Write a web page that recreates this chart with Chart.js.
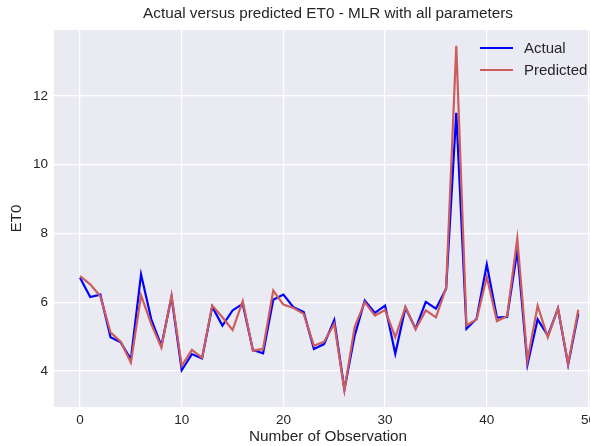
<!DOCTYPE html>
<html>
<head>
<meta charset="utf-8">
<script src="https://cdn.jsdelivr.net/npm/chart.js@4/dist/chart.umd.min.js"></script>
<style>
  html, body { margin: 0; padding: 0; background: #fff; }
  #wrap { width: 590px; height: 446px; position: relative; }
</style>
</head>
<body>
<div id="wrap"><canvas id="etChart"></canvas></div>
<script>
// datos
const observations = Array.from({ length: 50 }, (_, i) => i);
const actualET0 = [
  6.71, 6.15, 6.22, 4.98, 4.83, 4.34, 6.81, 5.51, 4.73, 6.15,
  4.02, 4.49, 4.36, 5.87, 5.32, 5.76, 5.95, 4.61, 4.51, 6.07,
  6.22, 5.85, 5.71, 4.64, 4.78, 5.48, 3.46, 5.02, 6.05, 5.69,
  5.90, 4.50, 5.84, 5.23, 6.01, 5.81, 6.39, 11.51, 5.23, 5.52,
  7.10, 5.55, 5.57, 7.50, 4.18, 5.50, 5.03, 5.81, 4.18, 5.67
];
const predictedET0 = [
  6.76, 6.52, 6.17, 5.12, 4.85, 4.24, 6.20, 5.37, 4.68, 6.20,
  4.15, 4.61, 4.38, 5.90, 5.56, 5.19, 6.03, 4.59, 4.64, 6.34,
  5.93, 5.83, 5.66, 4.73, 4.85, 5.37, 3.44, 5.27, 6.00, 5.61,
  5.77, 4.98, 5.86, 5.21, 5.76, 5.56, 6.42, 13.46, 5.32, 5.50,
  6.73, 5.45, 5.60, 7.85, 4.30, 5.90, 4.98, 5.82, 4.20, 5.78
];
const xTicks = [0, 10, 20, 30, 40, 50];
const yTicks = [4, 6, 8, 10, 12];

const chartTitle = 'Actual versus predicted ET0 - MLR with all parameters';
const xLabel = 'Number of Observation';
const yLabel = 'ET0';

const textColor = '#262626';
const fontFamily = '"Liberation Sans", Arial, sans-serif';

// titulo y etiqueta x centrados sobre los ejes completos (el eje se corta a la derecha)
const textosFijos = {
  id: 'textosFijos',
  afterDraw(chart) {
    const ctx = chart.ctx;
    ctx.save();
    ctx.fillStyle = textColor;
    ctx.textAlign = 'center';
    ctx.textBaseline = 'middle';
    ctx.font = '15.3px ' + fontFamily;
    ctx.fillText(chartTitle, 328, 14);
    ctx.fillText(xLabel, 328, 437);
    ctx.restore();
  }
};

// leyenda dibujada dentro del area del grafico (como matplotlib)
const insideLegend = {
  id: 'insideLegend',
  afterDatasetsDraw(chart) {
    const ctx = chart.ctx;
    ctx.save();
    ctx.font = '15px ' + fontFamily;
    ctx.textBaseline = 'middle';
    chart.data.datasets.forEach((ds, i) => {
      const y = 48 + i * 22;
      ctx.strokeStyle = ds.borderColor;
      ctx.lineWidth = 2;
      ctx.beginPath();
      ctx.moveTo(480, y);
      ctx.lineTo(513, y);
      ctx.stroke();
      ctx.fillStyle = textColor;
      ctx.fillText(ds.label, 524, y + 1);
    });
    ctx.restore();
  }
};

const plotBg = {
  id: 'plotBg',
  beforeDraw(chart) {
    const { ctx, chartArea: a } = chart;
    ctx.save();
    ctx.fillStyle = '#eaeaf2';
    ctx.fillRect(a.left, a.top, a.right - a.left, a.bottom - a.top);
    ctx.restore();
  }
};

new Chart(document.getElementById('etChart').getContext('2d'), {
  type: 'line',
  data: {
    datasets: [
      {
        label: 'Actual',
        data: observations.map((x, i) => ({ x: x, y: actualET0[i] })),
        borderColor: '#0000ff',
        borderWidth: 2.2,
        pointRadius: 0,
        tension: 0,
        order: 1
      },
      {
        label: 'Predicted',
        data: observations.map((x, i) => ({ x: x, y: predictedET0[i] })),
        borderColor: '#cd5c5c',
        borderWidth: 2.2,
        pointRadius: 0,
        tension: 0,
        order: 0 // encima de Actual
      }
    ]
  },
  options: {
    responsive: true,
    maintainAspectRatio: false,
    animation: false,
    layout: { padding: { left: 0, right: 0, top: 30, bottom: 0 } },
    scales: {
      x: {
        type: 'linear',
        min: -2.56,
        max: 50.15,
        afterBuildTicks: scale => { scale.ticks = xTicks.map(v => ({ value: v })); },
        afterFit: scale => { scale.height = 39; scale.paddingLeft = 0; scale.paddingRight = 0; },
        grid: { color: '#ffffff', lineWidth: 1.2, drawTicks: false },
        border: { display: false },
        ticks: { color: textColor, font: { size: 13.5, family: fontFamily }, padding: 5, maxRotation: 0 }
      },
      y: {
        min: 2.95,
        max: 13.92,
        afterBuildTicks: scale => { scale.ticks = yTicks.map(v => ({ value: v })); },
        afterFit: scale => { scale.width = 54; },
        grid: { color: '#ffffff', lineWidth: 1.2, drawTicks: false },
        border: { display: false },
        ticks: { color: textColor, font: { size: 13.5, family: fontFamily }, padding: 6 },
        title: {
          display: true,
          text: yLabel,
          color: textColor,
          font: { size: 15, family: fontFamily },
          padding: { top: 8, bottom: 0 }
        }
      }
    },
    plugins: {
      legend: { display: false },
      tooltip: { enabled: false },
      title: { display: false }
    }
  },
  plugins: [plotBg, insideLegend, textosFijos]
});
</script>
</body>
</html>
